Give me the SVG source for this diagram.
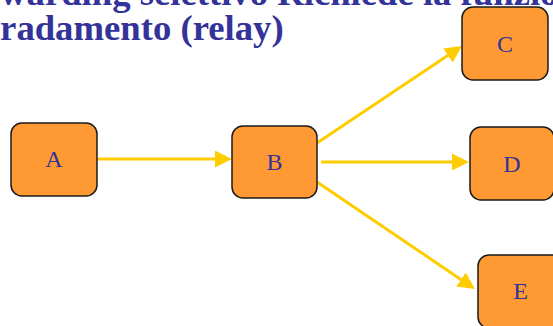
<svg xmlns="http://www.w3.org/2000/svg" width="553" height="326" viewBox="0 0 553 326">
<style>
.title{font-family:"Liberation Serif","Times New Roman",serif;font-weight:bold;font-size:36.7px;fill:#333399}
.node rect{fill:#FF9933;stroke:#1a1a1a;stroke-width:1.5}
.node text{font-family:"Liberation Serif","Times New Roman",serif;font-size:24px;fill:#333399;text-anchor:middle}
.edge{stroke:#FFCC00;stroke-width:3;fill:none;marker-end:url(#ah)}
</style>
<defs>
<marker id="ah" markerUnits="userSpaceOnUse" markerWidth="17" markerHeight="17" refX="7" refY="8.5" orient="auto" viewBox="0 0 17 17">
<path d="M0,0 L17,8.5 L0,17 Z" fill="#FFCC00"/>
</marker>
</defs>
<rect width="553" height="326" fill="#ffffff"/>
<g id="title">
<text class="title" x="-57" y="5">Forwarding selettivo Richiede la funzione di</text>
<text class="title" x="-57" y="39.5">instradamento (relay)</text>
</g>
<g id="connectors">
<line class="edge" x1="97" y1="159" x2="222" y2="159"/>
<line class="edge" x1="317" y1="143" x2="453.7" y2="51.6"/>
<line class="edge" x1="321" y1="162" x2="459" y2="162"/>
<line class="edge" x1="317" y1="182" x2="466.7" y2="283.4"/>
</g>
<g id="A" class="node"><rect x="11" y="123" width="86" height="73" rx="11"/><text x="54" y="167">A</text></g>
<g id="B" class="node"><rect x="232" y="126" width="85" height="72" rx="11"/><text x="274.5" y="170">B</text></g>
<g id="C" class="node"><rect x="462" y="7" width="86" height="73" rx="11"/><text x="505" y="51.5">C</text></g>
<g id="D" class="node"><rect x="470" y="127" width="84" height="73" rx="11"/><text x="512" y="171.5">D</text></g>
<g id="E" class="node"><rect x="478" y="255" width="85" height="73" rx="11"/><text x="520.5" y="299">E</text></g>
</svg>
